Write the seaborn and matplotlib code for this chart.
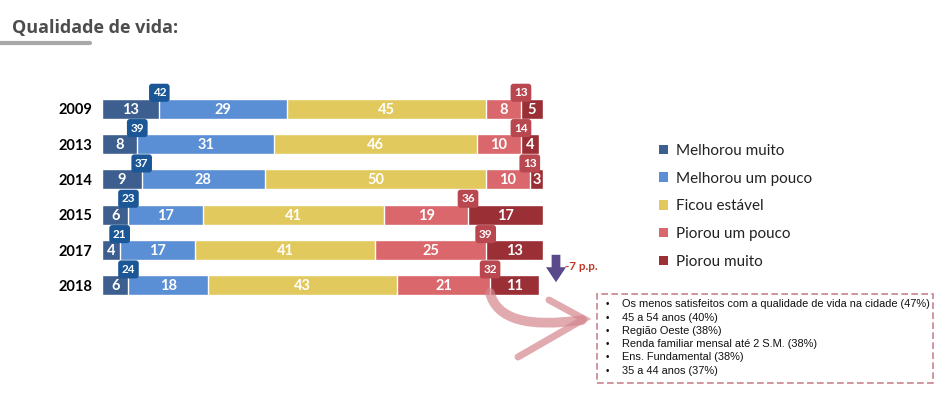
import numpy as np
import pandas as pd
import matplotlib
matplotlib.use('Agg')
import matplotlib.pyplot as plt
import seaborn as sns
from matplotlib.patches import Rectangle, FancyArrowPatch, Patch, PathPatch
from matplotlib.path import Path

# ---------------- data ----------------
years = ['2009', '2013', '2014', '2015', '2017', '2018']
categories = ['Melhorou muito', 'Melhorou um pouco', 'Ficou estável',
              'Piorou um pouco', 'Piorou muito']
melhorou_muito = [13, 8, 9, 6, 4, 6]
melhorou_pouco = [29, 31, 28, 17, 17, 18]
ficou_estavel = [45, 46, 50, 41, 41, 43]
piorou_pouco = [8, 10, 10, 19, 25, 21]
piorou_muito = [5, 4, 3, 17, 13, 11]
total_melhorou = [42, 39, 37, 23, 21, 24]
total_piorou = [13, 14, 13, 36, 39, 32]

destaques = [
    'Os menos satisfeitos com a qualidade de vida na cidade (47%)',
    '45 a 54 anos (40%)',
    'Região Oeste (38%)',
    'Renda familiar mensal até 2 S.M. (38%)',
    'Ens. Fundamental (38%)',
    '35 a 44 anos (37%)',
]

colors = ['#3c5f90', '#5b8fd5', '#e2c95d', '#d9676c', '#9a2f36']
badge_blue = '#1b5796'
badge_red = '#b9474f'

sns.set_style('white')
plt.rcParams['font.family'] = ['Lato', 'DejaVu Sans']

W, H = 945, 394
fig = plt.figure(figsize=(W / 100, H / 100), dpi=100)


def fx(px):
    return px / W


def fy(py):
    return 1 - py / H


ax = fig.add_axes([fx(102), fy(303), 441 / W, 212 / H])

values = np.array([melhorou_muito, melhorou_pouco, ficou_estavel,
                   piorou_pouco, piorou_muito])
cum = values.cumsum(axis=0)

# stacked bars: draw cumulative totals from the longest to the shortest
for k in range(len(categories) - 1, -1, -1):
    df = pd.DataFrame({'year': years, 'value': cum[k]})
    sns.barplot(data=df, x='value', y='year', orient='h', color=colors[k],
                width=0.57, edgecolor='white', linewidth=1.0,
                saturation=1, ax=ax)

# segment labels
for k in range(len(categories)):
    for i in range(len(years)):
        center = cum[k][i] - values[k][i] / 2
        ax.text(center, i + 0.03, str(values[k][i]), ha='center', va='center',
                color='white', fontsize=10.5, fontweight='bold')

# badges with totals
for i in range(len(years)):
    ax.text(cum[0][i], i - 0.45, str(total_melhorou[i]), ha='center',
            va='center', color='white', fontsize=8.5, fontweight='bold',
            bbox=dict(boxstyle='round,pad=0.3,rounding_size=0.25',
                      fc=badge_blue, ec='none'))
    ax.text(cum[3][i], i - 0.45, str(total_piorou[i]), ha='center',
            va='center', color='white', fontsize=8.5, fontweight='bold',
            bbox=dict(boxstyle='round,pad=0.3,rounding_size=0.25',
                      fc=badge_red, ec='none'))

ax.set_xlim(0, 100)
ax.set_ylim(5.5, -0.5)
ax.set_xlabel('')
ax.set_ylabel('')
ax.set_xticks([])
ax.tick_params(axis='y', length=0, pad=7)
for lbl in ax.get_yticklabels():
    lbl.set_fontweight('bold')
    lbl.set_fontsize(10.5)
    lbl.set_color('black')
sns.despine(ax=ax, left=True, bottom=True)

# legend
handles = [Patch(facecolor=c, edgecolor='none') for c in colors]
fig.legend(handles, categories, loc='upper left',
           bbox_to_anchor=(fx(645), fy(130)), frameon=False,
           fontsize=11, handlelength=0.6, handleheight=0.6,
           handletextpad=0.5, labelspacing=0.9, labelcolor='#222222')

# title
fig.text(fx(12), fy(28), 'Qualidade de vida:', fontsize=13, fontweight='bold',
         color='#4d4d4d', va='center', ha='left', family=['Open Sans', 'DejaVu Sans'])
fig.add_artist(plt.Line2D([0, fx(90)], [fy(43), fy(43)], color='#a8a8a8',
                          lw=3, transform=fig.transFigure))

# down arrow and -7 p.p.
fig.add_artist(FancyArrowPatch((fx(556), fy(252)), (fx(556), fy(285)),
                               transform=fig.transFigure,
                               arrowstyle='simple,head_width=1.6,head_length=1.2,tail_width=0.7',
                               mutation_scale=9, color='#5b4a8b', lw=0))
fig.text(fx(565), fy(267), '-7 p.p.', color='#c0392b', fontsize=8.5,
         fontweight='bold', va='center', ha='left')

# curved pink arrow
arrow_col = '#d4868e'
shaft = Path([(fx(490), fy(293)), (fx(500), fy(332)), (fx(582), fy(320))],
             [Path.MOVETO, Path.CURVE3, Path.CURVE3])
fig.add_artist(PathPatch(shaft, transform=fig.transFigure, fc='none',
                         ec=arrow_col, lw=7, alpha=0.7, capstyle='round'))
head = Path([(fx(549), fy(300)), (fx(584), fy(319)), (fx(518), fy(357))],
            [Path.MOVETO, Path.LINETO, Path.LINETO])
fig.add_artist(PathPatch(head, transform=fig.transFigure, fc='none',
                         ec=arrow_col, lw=5, alpha=0.7, capstyle='round',
                         joinstyle='miter'))

# highlight box
fig.add_artist(Rectangle((fx(597), fy(383)), fx(933) - fx(597),
                         fy(294) - fy(383), transform=fig.transFigure,
                         fill=False, ec='#c9848c', lw=1.2, ls=(0, (4, 2))))
line_y = [304, 318, 331, 344, 357, 371]
for yy, txt in zip(line_y, destaques):
    fig.text(fx(606), fy(yy), '•', fontsize=7, va='center', ha='left',
             color='#111111', family=['Liberation Sans', 'DejaVu Sans'])
    fig.text(fx(622), fy(yy), txt, fontsize=7.9, va='center', ha='left',
             color='#111111', family=['Liberation Sans', 'DejaVu Sans'])

fig.savefig('out.png', dpi=100)
